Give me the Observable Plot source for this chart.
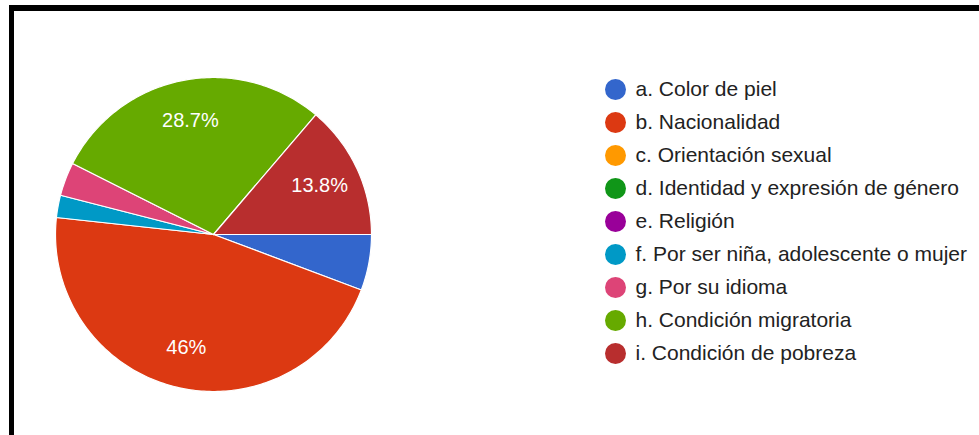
<!DOCTYPE html>
<html>
<head>
<meta charset="utf-8">
<script src="https://cdn.jsdelivr.net/npm/d3@7"></script>
<script src="https://cdn.jsdelivr.net/npm/@observablehq/plot@0.6"></script>
<style>
  html, body { margin: 0; padding: 0; background: #fff; overflow: hidden; }
  #wrap { position: relative; width: 979px; height: 435px; overflow: hidden; }
  #frame { position: absolute; left: 9px; top: 5px; width: 1000px; height: 500px;
           border-top: 6px solid #000; border-left: 5px solid #000; box-sizing: border-box; }
  #wrap svg { position: absolute; left: 0; top: 0; }
</style>
</head>
<body>
<div id="wrap"><div id="frame"></div></div>
<script>
const categories = [
  "a. Color de piel",
  "b. Nacionalidad",
  "c. Orientación sexual",
  "d. Identidad y expresión de género",
  "e. Religión",
  "f. Por ser niña, adolescente o mujer",
  "g. Por su idioma",
  "h. Condición migratoria",
  "i. Condición de pobreza"
];
const counts = [5, 40, 0, 0, 0, 2, 3, 25, 12];
const colors = ["#3366cc", "#dc3912", "#ff9900", "#109618", "#990099", "#0099c6", "#dd4477", "#66aa00", "#b82e2e"];

const total = d3.sum(counts);
// slices start at 3 o'clock and go clockwise
const polyPoints = [];
const labels = [];
let acc = 0;
categories.forEach((cat, i) => {
  const v = counts[i];
  const t0 = acc / total, t1 = (acc + v) / total;
  acc += v;
  if (v <= 0) return;
  const steps = Math.max(4, Math.ceil((t1 - t0) * 360));
  polyPoints.push({cat, x: 0, y: 0});
  for (let k = 0; k <= steps; k++) {
    const t = t0 + (t1 - t0) * k / steps;
    const a = -2 * Math.PI * t;
    polyPoints.push({cat, x: Math.cos(a), y: Math.sin(a)});
  }
  polyPoints.push({cat, x: 0, y: 0});
  const share = v / total;
  if (share >= 0.1) {
    const am = -2 * Math.PI * (t0 + t1) / 2;
    const pct = d3.format(".3~r")(share * 100) + "%";
    labels.push({cat, x: 0.74 * Math.cos(am), y: 0.74 * Math.sin(am), text: pct});
  }
});

const colorScale = {domain: categories, range: colors};

const pie = Plot.plot({
  width: 979,
  height: 435,
  margin: 0,
  x: {domain: [-1, 1], range: [55, 371], axis: null},
  y: {domain: [-1, 1], range: [391, 77], axis: null},
  color: colorScale,
  style: {background: "transparent"},
  marks: [
    Plot.line(polyPoints, {x: "x", y: "y", z: "cat", fill: "cat", stroke: "white", strokeWidth: 1.2, curve: "linear"}),
    Plot.text(labels, {x: "x", y: "y", text: "text", fill: "white", fontSize: 20,
      fontFamily: "Liberation Sans, Arial, sans-serif", textAnchor: "middle"})
  ]
});

const legend = Plot.plot({
  width: 979,
  height: 435,
  marginLeft: 615,
  marginRight: 0,
  marginTop: 0,
  marginBottom: 0,
  y: {type: "point", domain: categories, range: [89, 353], padding: 0, axis: null},
  color: colorScale,
  style: {background: "transparent"},
  marks: [
    Plot.dot(categories, {y: d => d, fill: d => d, r: 10.5, frameAnchor: "left", stroke: null}),
    Plot.text(categories, {y: d => d, text: d => d, frameAnchor: "left", dx: 20, textAnchor: "start",
      fill: "#222", fontSize: 21, fontFamily: "Liberation Sans, Arial, sans-serif"})
  ]
});

const wrap = document.getElementById("wrap");
wrap.appendChild(pie);
wrap.appendChild(legend);
</script>
</body>
</html>
